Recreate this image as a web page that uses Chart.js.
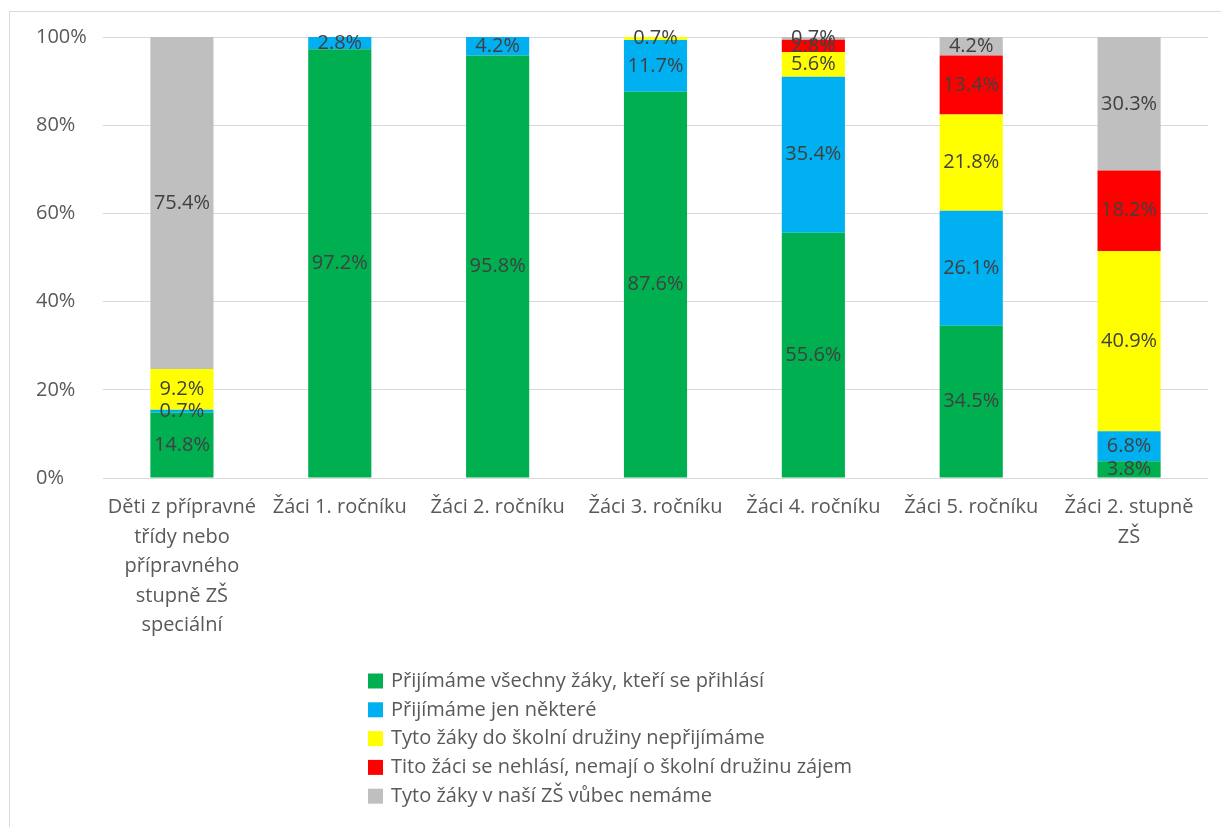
<!DOCTYPE html>
<html>
<head>
<meta charset="utf-8">
<script src="https://cdn.jsdelivr.net/npm/chart.js@4.4.1/dist/chart.umd.min.js"></script>
<style>
  html, body { margin: 0; padding: 0; background: #ffffff; overflow: hidden; }
  #wrap { position: relative; width: 1221px; height: 827px; }
  #frame { position: absolute; left: 9px; top: 11px; width: 1300px; height: 900px; border: 1px solid #d9d9d9; box-sizing: border-box; }
  #c { position: absolute; left: 0; top: 0; }
</style>
</head>
<body>
<div id="wrap">
  <div id="frame"></div>
  <canvas id="c" width="1221" height="827"></canvas>
</div>
<script>
const categories = [
  ["Děti z přípravné", "třídy nebo", "přípravného", "stupně ZŠ", "speciální"],
  ["Žáci 1. ročníku"],
  ["Žáci 2. ročníku"],
  ["Žáci 3. ročníku"],
  ["Žáci 4. ročníku"],
  ["Žáci 5. ročníku"],
  ["Žáci 2. stupně", "ZŠ"]
];
const seriesNames = [
  "Přijímáme všechny žáky, kteří se přihlásí",
  "Přijímáme jen některé",
  "Tyto žáky do školní družiny nepřijímáme",
  "Tito žáci se nehlásí, nemají o školní družinu zájem",
  "Tyto žáky v naší ZŠ vůbec nemáme"
];
const seriesColors = ["#00b050", "#00b0f0", "#ffff00", "#ff0000", "#bfbfbf"];
const allAccepted   = [14.8, 97.2, 95.8, 87.6, 55.6, 34.5, 3.8];
const someAccepted  = [0.7, 2.8, 4.2, 11.7, 35.4, 26.1, 6.8];
const notAccepted   = [9.2, 0, 0, 0.7, 5.6, 21.8, 40.9];
const notInterested = [0, 0, 0, 0, 2.8, 13.4, 18.2];
const noSuchPupils  = [75.4, 0, 0, 0, 0.7, 4.2, 30.3];
const yTicks = [0, 20, 40, 60, 80, 100];

const seriesValues = [allAccepted, someAccepted, notAccepted, notInterested, noSuchPupils];
const FONT = "'Open Sans', sans-serif";

const labelPlugin = {
  id: 'segLabels',
  afterDatasetsDraw(chart) {
    const ctx = chart.ctx;
    ctx.save();
    ctx.font = "20px " + FONT;
    ctx.fillStyle = "#404040";
    ctx.textAlign = "center";
    ctx.textBaseline = "middle";
    chart.data.datasets.forEach((ds, di) => {
      const meta = chart.getDatasetMeta(di);
      meta.data.forEach((bar, i) => {
        const v = ds.data[i];
        if (!v) return;
        const p = bar.getProps(['x', 'y', 'base'], true);
        ctx.fillText(v.toFixed(1) + "%", p.x, (p.y + p.base) / 2);
      });
    });
    ctx.restore();
  }
};

const legendPlugin = {
  id: 'vertLegend',
  afterDraw(chart) {
    const ctx = chart.ctx;
    ctx.save();
    ctx.font = "20px " + FONT;
    ctx.textBaseline = "middle";
    ctx.textAlign = "left";
    const x0 = 368, y0 = 681, step = 28.8, sw = 15;
    chart.data.datasets.forEach((ds, di) => {
      const yc = y0 + di * step;
      ctx.fillStyle = ds.backgroundColor;
      ctx.fillRect(x0, yc - sw / 2, sw, sw);
      ctx.fillStyle = "#595959";
      ctx.fillText(ds.label, x0 + 23, yc);
    });
    ctx.restore();
  }
};

new Chart(document.getElementById('c'), {
  type: 'bar',
  data: {
    labels: categories,
    datasets: seriesNames.map((name, i) => ({
      label: name,
      data: seriesValues[i],
      backgroundColor: seriesColors[i],
      borderWidth: 0,
      barPercentage: 0.4,
      categoryPercentage: 1.0
    }))
  },
  options: {
    responsive: false,
    animation: false,
    layout: { padding: { left: 36, right: 13, top: 37, bottom: 0 } },
    plugins: { legend: { display: false }, tooltip: { enabled: false } },
    scales: {
      x: {
        stacked: true,
        grid: { display: false, drawTicks: false },
        border: { display: false },
        ticks: {
          color: "#595959",
          font: { family: FONT, size: 20, lineHeight: 1.475 },
          padding: 15,
          maxRotation: 0,
          autoSkip: false
        },
        afterFit(scale) { scale.height = 827 - 478; }
      },
      y: {
        stacked: true,
        min: 0,
        max: 100,
        afterBuildTicks(scale) { scale.ticks = yTicks.map(v => ({ value: v })); },
        grid: { color: "#d9d9d9", drawTicks: false, lineWidth: 1 },
        border: { display: false },
        ticks: {
          color: "#595959",
          crossAlign: 'far',
          font: { family: FONT, size: 20 },
          callback: v => v + "%"
        },
        afterFit(scale) { scale.width = 103 - 36; }
      }
    }
  },
  plugins: [labelPlugin, legendPlugin]
});
</script>
</body>
</html>
